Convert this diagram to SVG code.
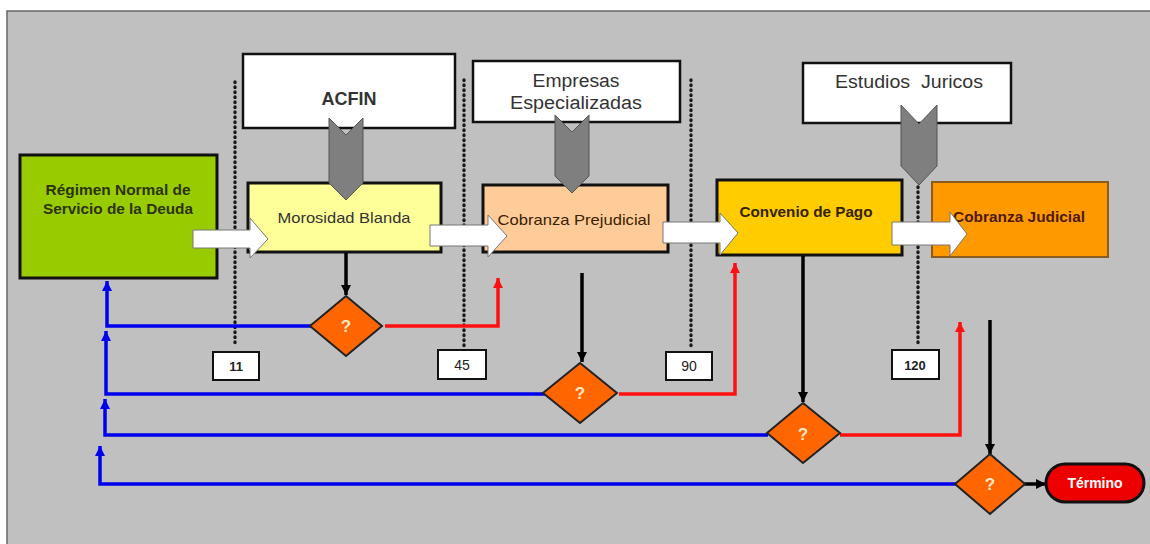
<svg xmlns="http://www.w3.org/2000/svg" width="1150" height="544" viewBox="0 0 1150 544">
<style>
.box{stroke:#111;stroke-width:3}
.top{fill:#fff;stroke:#111;stroke-width:2.5}
.lbl{fill:#fff;stroke:#111;stroke-width:2}
.chev{fill:#7f7f7f;stroke:#555;stroke-width:1}
.dot{stroke:#1a1a1a;stroke-width:3.4;stroke-dasharray:0.5 4.5;stroke-linecap:round;fill:none}
.blk{fill:#fff;stroke:#777;stroke-width:1}
.dia{fill:#ff6600;stroke:#222;stroke-width:2}
.t{font-family:"Liberation Sans",Arial,sans-serif}
.q{font-family:"Liberation Sans",Arial,sans-serif;font-size:17px;font-weight:bold;fill:#ffe6c8;text-anchor:middle}
.c{fill:none;stroke-width:3.5}
</style>
<defs>
<marker id="ak" markerUnits="userSpaceOnUse" markerWidth="12" markerHeight="12" refX="10" refY="5" orient="auto"><path d="M0,0 L10,5 L0,10 z" fill="#000"/></marker>
<marker id="ab" markerUnits="userSpaceOnUse" markerWidth="12" markerHeight="12" refX="10" refY="5" orient="auto"><path d="M0,0 L10,5 L0,10 z" fill="#0000ee"/></marker>
<marker id="ar" markerUnits="userSpaceOnUse" markerWidth="12" markerHeight="12" refX="10" refY="5" orient="auto"><path d="M0,0 L10,5 L0,10 z" fill="#ff1010"/></marker>
</defs>
<rect x="0" y="0" width="1150" height="544" fill="#fff"/>
<rect x="7" y="11" width="1160" height="545" fill="#c0c0c0" stroke="#666" stroke-width="1.5"/>

<g id="dotted">
<line class="dot" x1="235" y1="82" x2="235" y2="347"/>
<line class="dot" x1="464" y1="80" x2="464" y2="347"/>
<line class="dot" x1="691" y1="80" x2="691" y2="347"/>
<line class="dot" x1="918" y1="187" x2="918" y2="347"/>
</g>

<g id="acfin"><rect class="top" x="243" y="54" width="212" height="74"/><text class="t" x="349" y="105" font-size="18" font-weight="bold" fill="#333" text-anchor="middle">ACFIN</text></g>
<g id="empresas"><rect class="top" x="473" y="61" width="207" height="61"/><text class="t" x="576" y="87" font-size="18" fill="#333" text-anchor="middle" textLength="87" lengthAdjust="spacingAndGlyphs">Empresas</text><text class="t" x="576" y="109" font-size="18" fill="#333" text-anchor="middle" textLength="132" lengthAdjust="spacingAndGlyphs">Especializadas</text></g>
<g id="estudios"><rect class="top" x="803" y="63" width="208" height="60"/><text class="t" x="909" y="88" font-size="19" fill="#333" text-anchor="middle" textLength="148" lengthAdjust="spacingAndGlyphs" xml:space="preserve">Estudios  Juricos</text></g>

<g id="regimen"><rect class="box" x="20" y="155" width="197" height="123" fill="#99cc00"/><text class="t" x="118" y="195" font-size="14" font-weight="bold" fill="#2b3300" text-anchor="middle" textLength="145" lengthAdjust="spacingAndGlyphs">Régimen Normal de</text><text class="t" x="118" y="214" font-size="14" font-weight="bold" fill="#2b3300" text-anchor="middle" textLength="150" lengthAdjust="spacingAndGlyphs">Servicio de la Deuda</text></g>
<g id="morosidad"><rect class="box" x="248" y="183" width="193" height="69" fill="#ffff99"/><text class="t" x="344" y="223" font-size="15" fill="#333" text-anchor="middle" textLength="133" lengthAdjust="spacingAndGlyphs">Morosidad Blanda</text></g>
<g id="prejudicial"><rect class="box" x="483" y="185" width="185" height="67" fill="#ffcc99"/><text class="t" x="574" y="225" font-size="15" fill="#3a2200" text-anchor="middle" textLength="153" lengthAdjust="spacingAndGlyphs">Cobranza Prejudicial</text></g>
<g id="convenio"><rect class="box" x="717" y="180" width="185" height="75" fill="#ffcc00"/><text class="t" x="806" y="217" font-size="14" font-weight="bold" fill="#332200" text-anchor="middle" textLength="133" lengthAdjust="spacingAndGlyphs">Convenio de Pago</text></g>
<g id="judicial"><rect x="932" y="182" width="176" height="75" fill="#ff9900" stroke="#8a5a20" stroke-width="2"/><text class="t" x="1019" y="222" font-size="14" font-weight="bold" fill="#4d1a00" text-anchor="middle" textLength="132" lengthAdjust="spacingAndGlyphs">Cobranza Judicial</text></g>

<g id="chevrons">
<polygon class="chev" points="329,118 346,135 363,118 363,183 346,200 329,183"/>
<polygon class="chev" points="555,115 572,132 589,115 589,176 572,193 555,176"/>
<polygon class="chev" points="901,105 919,124 937,105 937,166 919,185 901,166"/>
</g>

<g id="block-arrows">
<polygon class="blk" points="193,230 250,230 250,218 268,239 250,258 250,248 193,248"/>
<polygon class="blk" points="430,225 488,225 488,215 507,236 488,257 488,246 430,246"/>
<polygon class="blk" points="663,222 720,222 720,213 738,233 720,255 720,243 663,243"/>
<polygon class="blk" points="892,222 950,222 950,212 967,234 950,256 950,245 892,245"/>
</g>

<g id="labels">
<g id="d11"><rect class="lbl" x="213" y="352" width="46" height="28"/><text class="t" x="236" y="371" font-size="13" font-weight="bold" fill="#222" text-anchor="middle">11</text></g>
<g id="d45"><rect class="lbl" x="438" y="350" width="48" height="29"/><text class="t" x="462" y="370" font-size="14" fill="#222" text-anchor="middle">45</text></g>
<g id="d90"><rect class="lbl" x="666" y="352" width="46" height="28"/><text class="t" x="689" y="371" font-size="14" fill="#222" text-anchor="middle">90</text></g>
<g id="d120"><rect class="lbl" x="892" y="350" width="47" height="29"/><text class="t" x="915" y="370" font-size="13" font-weight="bold" fill="#222" text-anchor="middle">120</text></g>
</g>

<g id="connectors">
<path class="c" stroke="#0000ee" d="M312,326 H107 V281" marker-end="url(#ab)"/>
<path class="c" stroke="#0000ee" d="M545,394 H106 V331" marker-end="url(#ab)"/>
<path class="c" stroke="#0000ee" d="M768,435 H105 V399" marker-end="url(#ab)"/>
<path class="c" stroke="#0000ee" d="M956,484 H100 V446" marker-end="url(#ab)"/>
<path class="c" stroke="#ff1010" d="M385,326 H498 V278" marker-end="url(#ar)"/>
<path class="c" stroke="#ff1010" d="M619,394 H735 V263" marker-end="url(#ar)"/>
<path class="c" stroke="#ff1010" d="M840,435 H960 V322" marker-end="url(#ar)"/>
<path class="c" stroke="#000" stroke-width="3" d="M346,253 V295" marker-end="url(#ak)"/>
<path class="c" stroke="#000" stroke-width="3" d="M582,273 V362" marker-end="url(#ak)"/>
<path class="c" stroke="#000" stroke-width="3" d="M803,256 V402" marker-end="url(#ak)"/>
<path class="c" stroke="#000" stroke-width="3" d="M990,320 V454" marker-end="url(#ak)"/>
<path class="c" stroke="#000" stroke-width="3" d="M1022,484 H1046" marker-end="url(#ak)"/>
</g>

<g id="decision1"><polygon class="dia" points="346,296 382,326 346,356 310,326"/><text class="q" x="346" y="332">?</text></g>
<g id="decision2"><polygon class="dia" points="580,363 617,393 580,423 543,393"/><text class="q" x="580" y="399">?</text></g>
<g id="decision3"><polygon class="dia" points="803,403 840,433 803,463 767,433"/><text class="q" x="803" y="440">?</text></g>
<g id="decision4"><polygon class="dia" points="990,454 1025,484 990,514 955,484"/><text class="q" x="990" y="490">?</text></g>

<g id="termino"><rect x="1046" y="464" width="98" height="38" rx="19" fill="#ee0000" stroke="#111" stroke-width="3"/><text class="t" x="1095" y="488" font-size="14" font-weight="bold" fill="#fff" text-anchor="middle">Término</text></g>
</svg>
